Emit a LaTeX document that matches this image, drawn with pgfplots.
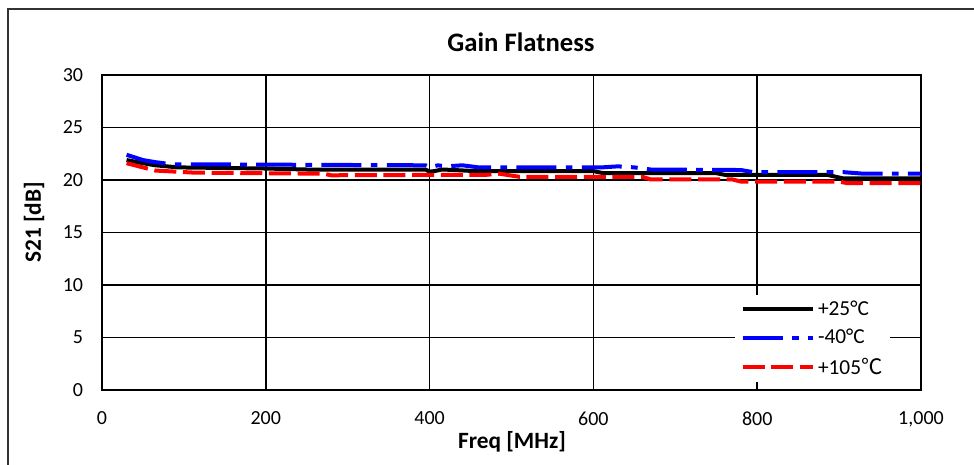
\documentclass[border=0pt]{standalone}
\usepackage{fontspec}
\setmainfont{Carlito}
\newfontfamily\cjk{Noto Sans CJK SC}
\usepackage{pgfplots}
\pgfplotsset{compat=1.18}

\begin{document}
\begin{tikzpicture}
\path[use as bounding box, clip] (-76.5pt,-55.5pt) rectangle (654pt,292.5pt);
\begin{axis}[
    scale only axis,
    width=614.25pt, height=236.25pt,
    xmin=0, xmax=1000, ymin=0, ymax=30,
    xtick={0,200,400,600,800,1000},
    ytick={0,5,10,15,20,25,30},
    major tick length=0pt,
    grid=major,
    grid style={line width=1.2pt, black},
    axis line style={line width=1.2pt, black},
    /pgf/number format/assume math mode=true,
    /pgf/number format/1000 sep={,},
    tick label style={font=\fontsize{15}{18}\selectfont, inner sep=0pt},
    xticklabel style={anchor=north, yshift=-16pt},
    yticklabel style={anchor=east, xshift=-14pt},
    title={Gain Flatness},
    title style={at={(axis description cs:0.5116,1.078)}, anchor=center, font=\bfseries\fontsize{20}{24}\selectfont},
    xlabel={Freq [MHz]},
    ylabel={S21 [dB]},
    label style={font=\bfseries\fontsize{17.5}{21}\selectfont},
    xlabel style={at={(axis description cs:0.5006,-0.165)}, anchor=center},
    ylabel style={at={(axis description cs:-0.083,0.532)}, anchor=center, rotate=0},
    legend style={at={(axis description cs:0.773,0.301)}, anchor=north west, draw=none, fill=white,
        inner xsep=4pt, inner ysep=2pt, row sep=5pt, font=\fontsize{16}{19}\selectfont},
    legend cell align=left,
    legend image code/.code={\draw[#1] (0pt,0pt) -- (53pt,0pt);},
]
% +25 C
\addplot[black, line width=3pt] coordinates {
(30,21.9) (50,21.6) (65,21.4) (93,21.2) (195,21.1) (250,21.0) (395,21.0) (400,20.8) (406,20.85) (415,21.0) (430,20.95)
(455,20.85) (600,20.85) (612,20.65) (750,20.65) (760,20.5) (885,20.5) (905,20.15) (1000,20.15)
};
\addlegendentry{+25°C}
% -40 C
\addplot[blue, line width=3pt, dash pattern=on 30pt off 7pt on 5pt off 7pt] coordinates {
(30,22.4) (50,21.9) (65,21.7) (85,21.5) (395,21.4) (400,21.2) (410,21.4) (420,21.3) (440,21.4) (460,21.2)
(610,21.2) (630,21.3) (650,21.2) (670,21.0) (780,20.95) (795,20.75) (905,20.75) (930,20.6) (1000,20.6)
};
\addlegendentry{-40°C}
% +105 C
\addplot[red, line width=3pt, dash pattern=on 16.5pt off 5pt] coordinates {
(30,21.6) (50,21.2) (65,20.9) (113,20.7) (270,20.6) (280,20.45) (470,20.5) (485,20.6) (510,20.3)
(660,20.3) (670,20.05) (770,20.05) (780,19.85) (900,19.85) (910,19.7) (1000,19.7)
};
\addlegendentry{+105{\cjk ℃}}
\end{axis}
\draw[line width=1.1pt, black!80] (-70.5pt,-70pt) -- (-70.5pt,285.75pt) -- (670pt,285.75pt);
\end{tikzpicture}
\end{document}
